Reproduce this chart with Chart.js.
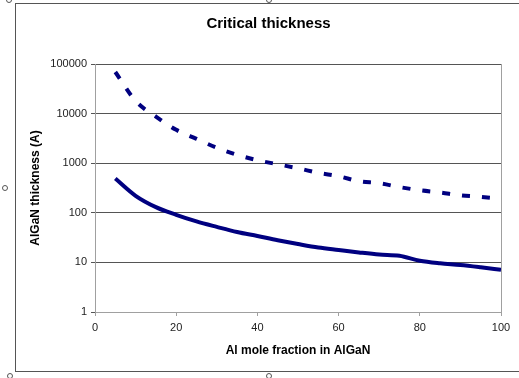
<!DOCTYPE html>
<html>
<head>
<meta charset="utf-8">
<script src="https://cdn.jsdelivr.net/npm/chart.js@4/dist/chart.umd.min.js"></script>
<style>
  html, body { margin: 0; padding: 0; background: #fff; overflow: hidden; width: 519px; height: 378px; }
  #wrap { position: relative; width: 519px; height: 378px; }
  #frame { position: absolute; left: 15px; top: 3px; width: 540px; height: 367px; border: 1px solid #555; }
  .handle { position: absolute; width: 4px; height: 4px; border: 1px solid #555; border-radius: 50%; background: #fff; }
  canvas { position: absolute; left: 0; top: 0; }
</style>
</head>
<body>
<div id="wrap">
  <div id="frame"></div>
  <div class="handle" style="left:6px;top:-3px"></div>
  <div class="handle" style="left:266px;top:-3px"></div>
  <div class="handle" style="left:2px;top:185px"></div>
  <div class="handle" style="left:7px;top:373px"></div>
  <div class="handle" style="left:266px;top:373px"></div>
  <canvas id="chart" width="537" height="378"></canvas>
</div>
<script>
var fractions = [5, 10, 15, 20, 25, 30, 35, 40, 45, 50, 55, 60, 65, 70, 75, 80, 85, 90, 95, 100];
var lowerCurve = [490, 220, 130, 91, 67, 52, 41, 34, 28, 23.5, 20, 17.8, 15.9, 14.4, 13.6, 10.8, 9.6, 8.9, 8.0, 7.1];
var upperCurve = [69000, 18000, 8700, 4700, 3100, 2050, 1480, 1150, 950, 790, 640, 545, 435, 395, 330, 285, 257, 225, 210, 192];
var yTicks = [1, 10, 100, 1000, 10000, 100000];
var xTicks = [0, 20, 40, 60, 80, 100];

function pairs(ys) {
  return fractions.map(function (x, i) { return { x: x, y: ys[i] }; });
}

var navy = '#000080';
var font = 'Liberation Sans, Arial';

// grey right edge of the plot area
var plotEdge = {
  id: 'plotEdge',
  afterDraw: function (chart) {
    var a = chart.chartArea, c = chart.ctx;
    c.save();
    c.strokeStyle = '#a0a0a0';
    c.lineWidth = 1;
    c.beginPath();
    c.moveTo(Math.round(a.right) + 0.5, a.top);
    c.lineTo(Math.round(a.right) + 0.5, a.bottom);
    c.stroke();
    c.restore();
  }
};

new Chart(document.getElementById('chart').getContext('2d'), {
  type: 'line',
  data: {
    datasets: [{
      label: 'lower',
      data: pairs(lowerCurve),
      borderColor: navy,
      borderWidth: 4,
      pointRadius: 0,
      cubicInterpolationMode: 'monotone',
      fill: false
    }, {
      label: 'upper',
      data: pairs(upperCurve),
      borderColor: navy,
      borderWidth: 4,
      borderDash: [8, 12],
      borderCapStyle: 'butt',
      pointRadius: 0,
      cubicInterpolationMode: 'monotone',
      fill: false
    }]
  },
  options: {
    responsive: false,
    animation: false,
    layout: { padding: 0 },
    plugins: {
      legend: { display: false },
      tooltip: { enabled: false },
      title: {
        display: true,
        text: 'Critical thickness',
        color: '#000',
        font: { family: font, size: 15, weight: 'bold' },
        padding: { top: 15, bottom: 31 }
      }
    },
    scales: {
      x: {
        type: 'linear',
        min: 0,
        max: 100,
        afterBuildTicks: function (s) { s.ticks = xTicks.map(function (v) { return { value: v }; }); },
        afterFit: function (s) { s.height = 66; },
        grid: { drawOnChartArea: false, drawTicks: true, tickLength: 4, color: '#a0a0a0' },
        border: { color: '#a0a0a0', width: 1 },
        ticks: {
          color: '#222',
          padding: 5,
          maxRotation: 0,
          font: { family: font, size: 11 }
        },
        title: {
          display: true,
          text: 'Al mole fraction in AlGaN',
          color: '#000',
          font: { family: font, size: 12, weight: 'bold' },
          padding: { top: 0, bottom: 20 }
        }
      },
      y: {
        type: 'logarithmic',
        min: 1,
        max: 100000,
        afterBuildTicks: function (s) { s.ticks = yTicks.map(function (v) { return { value: v }; }); },
        afterFit: function (s) { s.width = 95; },
        grid: { color: '#555', lineWidth: 1, drawTicks: true, tickLength: 4 },
        border: { color: '#a0a0a0', width: 1 },
        ticks: {
          color: '#222',
          padding: 4,
          font: { family: font, size: 11 },
          callback: function (v) { return String(v); }
        },
        title: {
          display: true,
          text: 'AlGaN thickness (A)',
          color: '#000',
          font: { family: font, size: 12, weight: 'bold' },
          padding: { top: 28, bottom: 0 }
        }
      },
      // empty right-hand strip so the title centres on the whole chart box
      spacer: {
        type: 'linear',
        position: 'right',
        afterFit: function (s) { s.width = 36; },
        grid: { display: false },
        border: { display: false },
        ticks: { display: false }
      }
    }
  },
  plugins: [plotEdge]
});
</script>
</body>
</html>
